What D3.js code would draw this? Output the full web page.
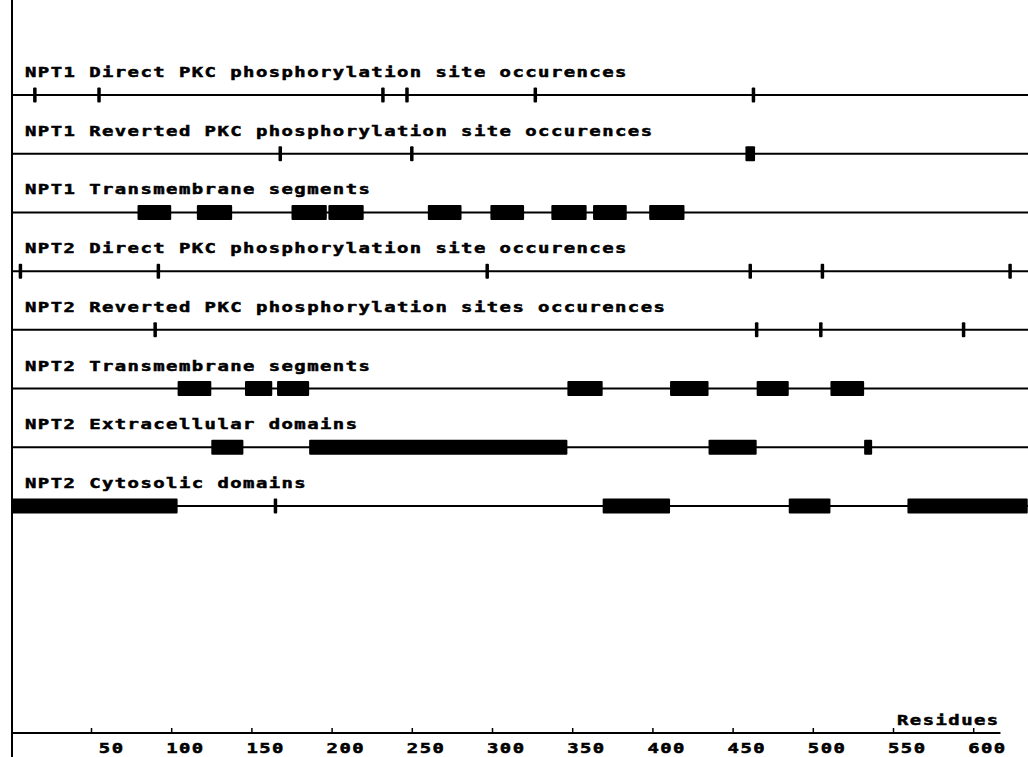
<!DOCTYPE html>
<html>
<head>
<meta charset="utf-8">
<script src="https://cdn.jsdelivr.net/npm/d3@7"></script>
<style>
  html, body { margin: 0; padding: 0; background: #fff; }
  svg { display: block; }
  text.lbl { font-family: "DejaVu Sans Mono", "Liberation Mono", monospace; font-weight: bold; fill: #000; stroke: #000; stroke-width: 0.5; }
</style>
</head>
<body>
<svg id="chart" width="1028" height="757"></svg>
<script>
// Track labels, top to bottom
const trackNames = [
  'NPT1 Direct PKC phosphorylation site occurences',
  'NPT1 Reverted PKC phosphorylation site occurences',
  'NPT1 Transmembrane segments',
  'NPT2 Direct PKC phosphorylation site occurences',
  'NPT2 Reverted PKC phosphorylation sites occurences',
  'NPT2 Transmembrane segments',
  'NPT2 Extracellular domains',
  'NPT2 Cytosolic domains'
];

// Segments per track as [start, end] residue; single sites have start == end
const npt1Direct = [[15, 15], [55, 55], [232, 232], [247, 247], [327, 327], [463, 463]];
const npt1Reverted = [[168, 168], [250, 250], [458, 464]];
const npt1TM = [[79, 100], [116, 138], [175, 197], [198, 220], [260, 281], [299, 320], [337, 359], [363, 384], [398, 420]];
const npt2Direct = [[6, 6], [92, 92], [297, 297], [461, 461], [506, 506], [623, 623]];
const npt2Reverted = [[90, 90], [465, 465], [505, 505], [594, 594]];
const npt2TM = [[104, 125], [146, 163], [166, 186], [347, 369], [411, 435], [465, 485], [511, 532]];
const npt2Extra = [[125, 145], [186, 347], [435, 465], [532, 537]];
const npt2Cyto = [[0, 104], [165, 165], [369, 411], [485, 511], [559, 634]];

const trackData = [npt1Direct, npt1Reverted, npt1TM, npt2Direct, npt2Reverted, npt2TM, npt2Extra, npt2Cyto];

// Axis
const tickValues = [50, 100, 150, 200, 250, 300, 350, 400, 450, 500, 550, 600];
const axisTitle = 'Residues';
const seqMax = 634;
const axisMax = 617;

const width = 1028, height = 757;
const svg = d3.select('#chart');

const x = d3.scaleLinear().domain([0, seqMax]).range([10.8, 10.8 + seqMax * 1.604]);
const y = d3.scaleLinear().domain([0, trackData.length - 1]).range([95, 506]);

// pixel-font look: wide monospace cells
const FS = 14, SX = 1.35, CELL = 12.83;
const LS = CELL / SX - 0.602 * FS;

function label(g, tx, ty, str) {
  g.append('text')
    .attr('class', 'lbl')
    .attr('text-anchor', 'start')
    .attr('transform', `translate(${tx},${ty}) scale(${SX},1)`)
    .attr('font-size', FS)
    .attr('letter-spacing', LS)
    .text(str);
}

// Vertical axis line
svg.append('line')
  .attr('x1', 12).attr('x2', 12)
  .attr('y1', 0).attr('y2', height)
  .attr('stroke', '#000').attr('stroke-width', 2);

// Tracks
const tracks = svg.append('g');
trackData.forEach((segs, i) => {
  const ty = y(i);
  label(tracks, 25, ty - 18, trackNames[i]);
  tracks.append('line')
    .attr('x1', 12).attr('x2', width)
    .attr('y1', ty).attr('y2', ty)
    .attr('stroke', '#000').attr('stroke-width', 2);
  tracks.selectAll(null)
    .data(segs)
    .join('rect')
      .attr('x', d => d[0] === d[1] ? x(d[0]) - 1.75 : Math.max(12, x(d[0])))
      .attr('width', d => d[0] === d[1] ? 3.5 : x(d[1]) - Math.max(12, x(d[0])))
      .attr('y', ty - 7.5)
      .attr('height', 15)
      .attr('rx', 1)
      .attr('fill', '#000');
});

// Bottom axis
const axisY = 733;
const axis = svg.append('g').attr('transform', `translate(0,${axisY})`);
axis.call(d3.axisBottom(x).tickValues(tickValues).tickSize(-5).tickFormat(''))
  .call(g => g.select('.domain').remove())
  .call(g => g.selectAll('.tick line').attr('stroke', '#000').attr('stroke-width', 1.5));
axis.append('line')
  .attr('x1', 12).attr('x2', x(axisMax))
  .attr('y1', 0).attr('y2', 0)
  .attr('stroke', '#000').attr('stroke-width', 2);
tickValues.forEach(v => {
  const s = String(v);
  label(axis, x(v) - 5 + (3 - s.length) * CELL, 20, s);
});
label(axis, 897, -8, axisTitle);
</script>
</body>
</html>
